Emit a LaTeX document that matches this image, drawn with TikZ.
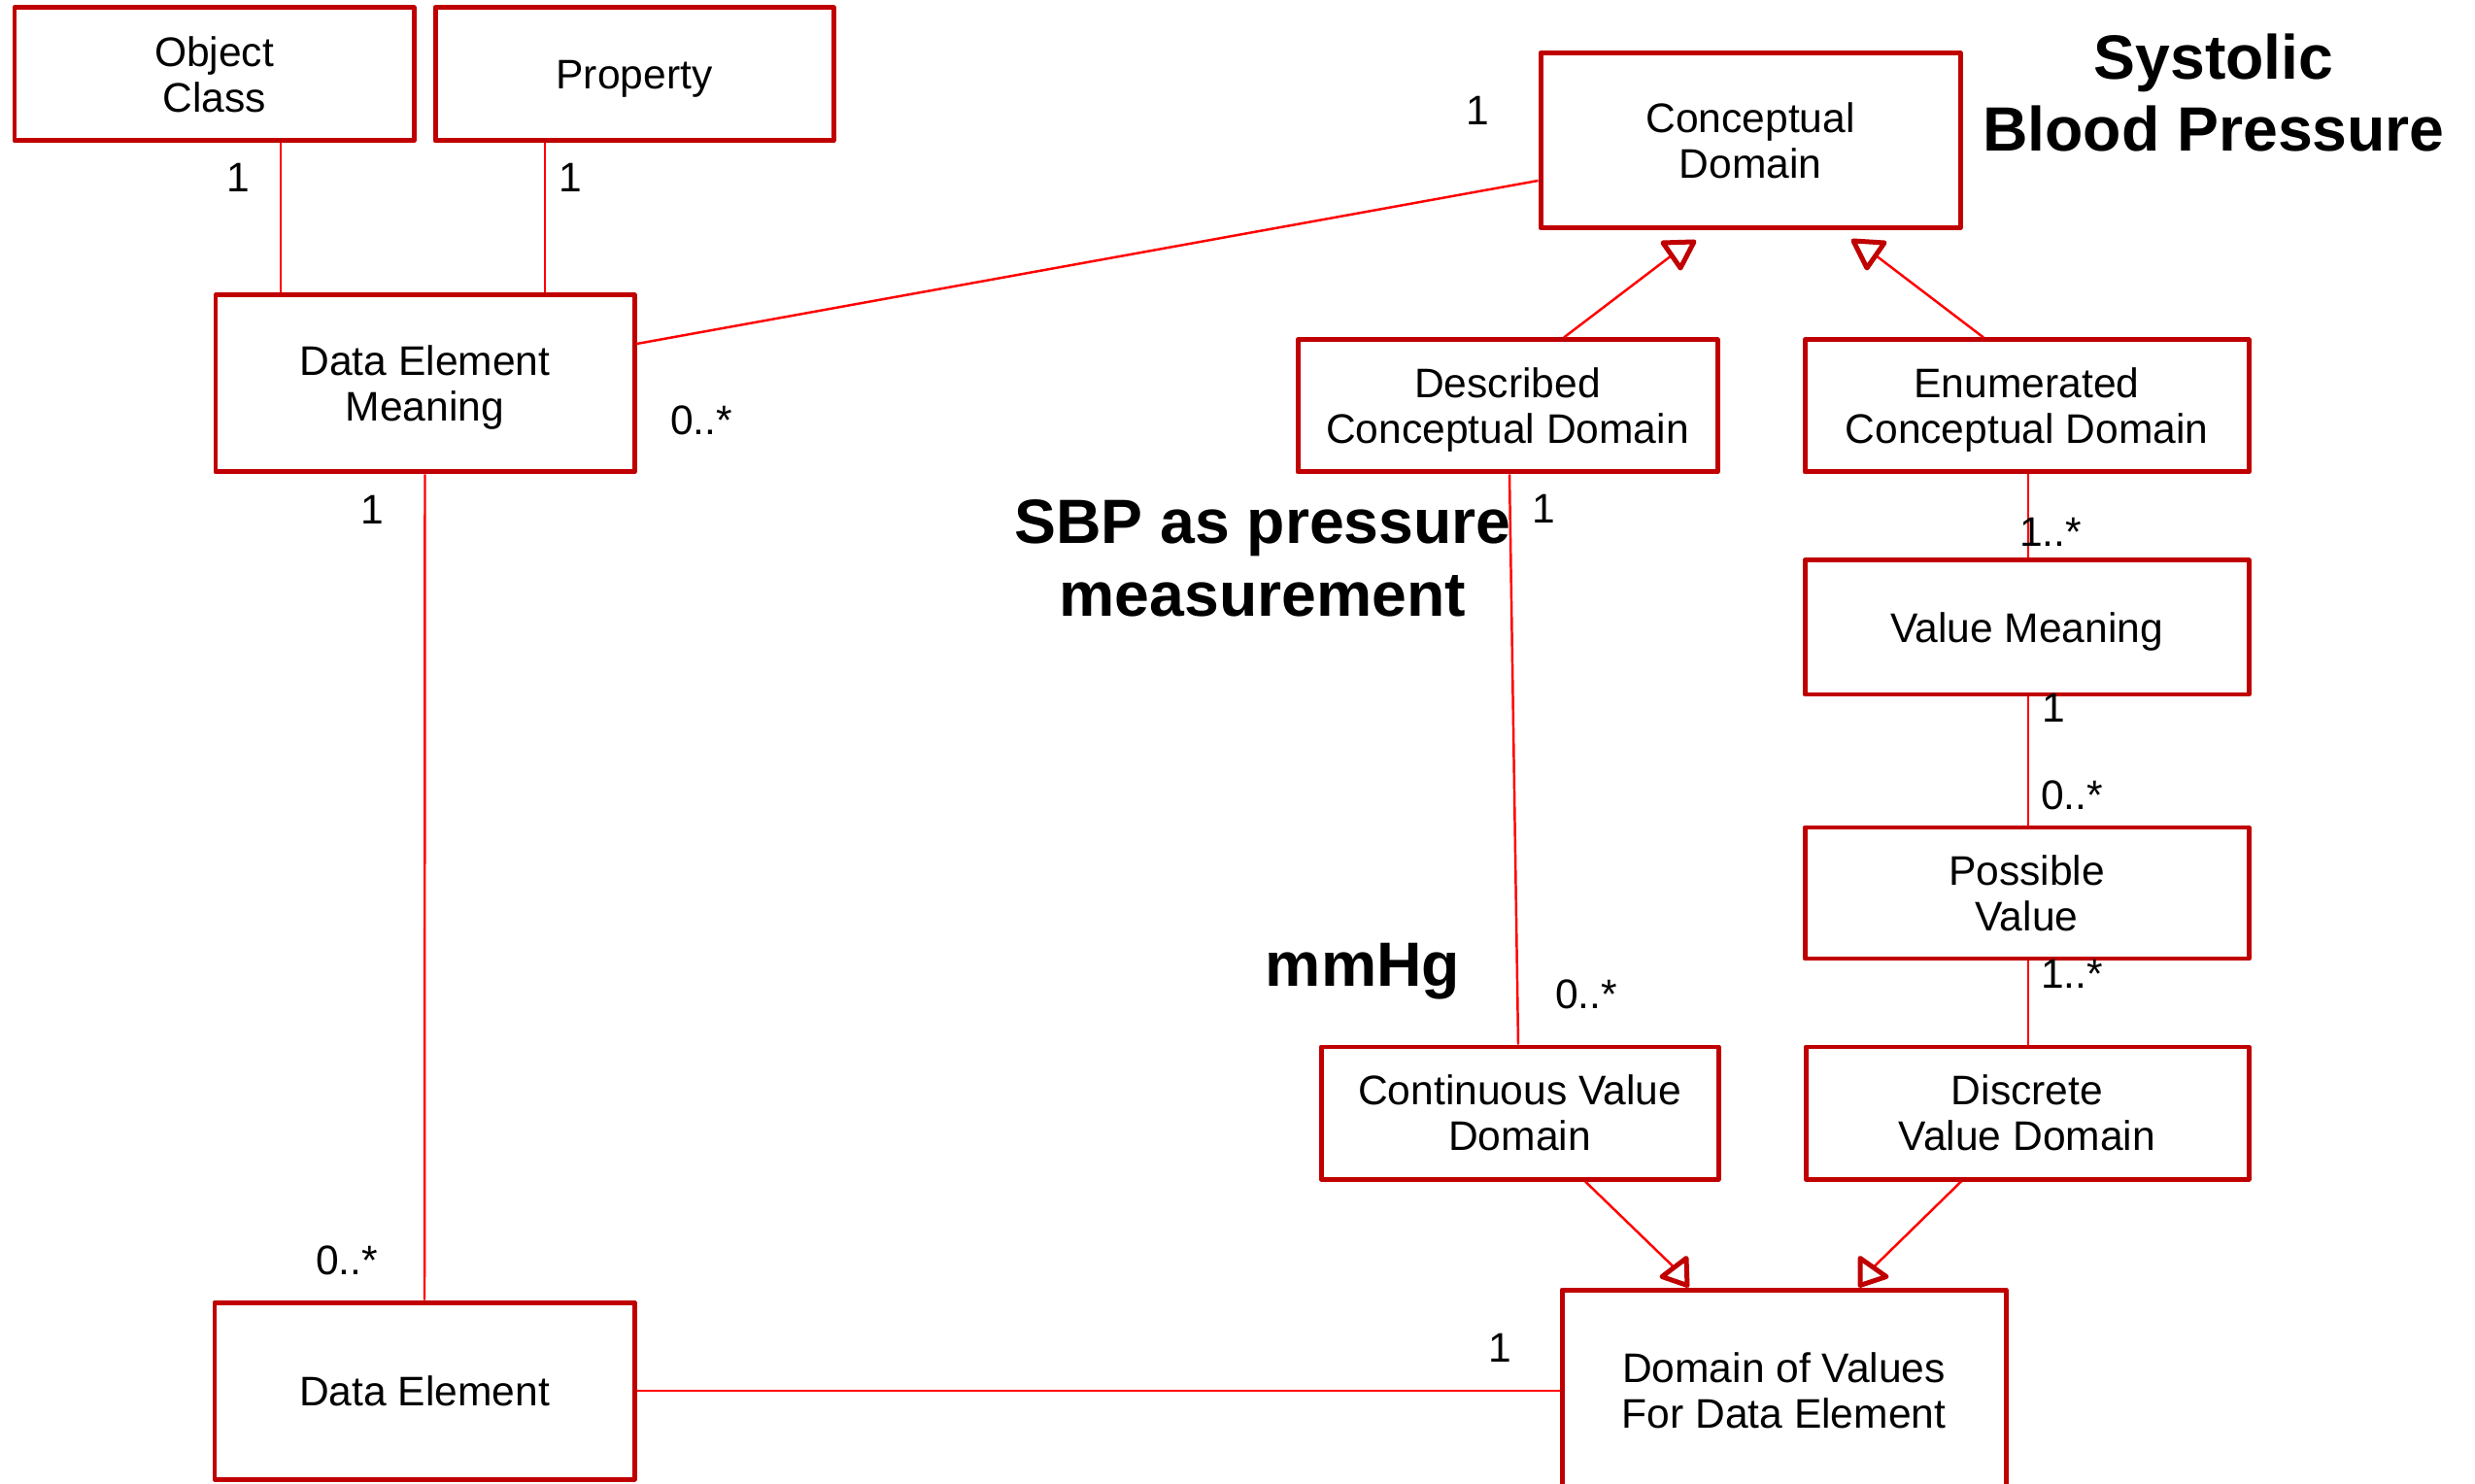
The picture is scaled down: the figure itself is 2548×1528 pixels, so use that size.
\documentclass[tikz,border=0pt]{standalone}
\usepackage{fontspec}
\setmainfont{Liberation Sans}
\usetikzlibrary{calc}
\definecolor{boxred}{RGB}{192,0,0}
\definecolor{linkred}{RGB}{255,0,0}

\begin{document}
\begin{tikzpicture}[x=0.01cm,y=-0.01cm,
  box/.style={draw=boxred, line width=1.42pt, line join=round, fill=white,
    rectangle, inner sep=0pt, align=center,
    font=\fontsize{12.1pt}{13.4pt}\selectfont},
  sz/.style 2 args={minimum width=#1*0.01cm, minimum height=#2*0.01cm},
  link/.style={draw=linkred, line width=0.7pt},
  mult/.style={inner sep=0pt, text height=8.66pt, text depth=0pt,
    font=\fontsize{12.1pt}{13.4pt}\selectfont},
  note/.style={inner sep=0pt, align=center,
    font=\fontsize{18.3pt}{21.3pt}\bfseries\selectfont},
  gen/.style={draw=boxred, line width=1.42pt, line join=round, fill=white}
]
\useasboundingbox (0,0) rectangle (2548,1528);
\fill[white] (0,0) rectangle (2548,1528);
\clip (0,0) rectangle (2548,1528);

% classes
\node[box, sz={411}{137}] (oc)   at (220.5,76.5)  {Object\\Class};
\node[box, sz={410}{137}, text height=8.66pt, text depth=0pt] (prop) at (653,76.5) {Property};
\node[box, sz={431}{182}] (dem)  at (437.5,395)   {Data Element\\Meanin\smash{g}};
\node[box, sz={432}{180}] (cd)   at (1802,144.5)  {Conceptual\\Domain};
\node[box, sz={432}{136}] (dcd)  at (1552,418)    {Described\\Conce\smash{p}tual Domain};
\node[box, sz={457}{136}] (ecd)  at (2086.5,418)  {Enumerated\\Conce\smash{p}tual Domain};
\node[box, sz={457}{138}, text height=8.66pt, text depth=0pt] (vm) at (2086.5,646) {Value Meaning};
\node[box, sz={457}{135}] (pv)   at (2086.5,919.5){Possible\\Value};
\node[box, sz={409}{136}] (cvd)  at (1564.5,1146) {Continuous Value\\Domain};
\node[box, sz={456}{136}] (dvd)  at (2087,1146)   {Discrete\\Value Domain};
\node[box, sz={432}{182}, text height=8.66pt, text depth=0pt] (de) at (437,1432) {Data Element};
\node[box, sz={457}{207}] (dov)  at (1836.5,1431.5) {Domain of Values\\For Data Element};

% helper positions for connector ends
\coordinate (xoc) at (289,0);
\coordinate (xpr) at (561,0);
\coordinate (ydem) at (0,354);
\coordinate (ycd) at (0,186);
\coordinate (xdcd) at (1610,0);
\coordinate (xecd) at (2042,0);
\coordinate (xd1) at (1554,0);
\coordinate (xd2) at (1563,0);
\coordinate (xev) at (2088,0);
\coordinate (xcv) at (1632,0);
\coordinate (xdv) at (2019,0);

% associations
\draw[link] (oc.south -| xoc) -- (dem.north -| xoc);
\draw[link] (prop.south -| xpr) -- (dem.north -| xpr);
\draw[link] (dem.east |- ydem) -- (cd.west |- ycd);
\draw[link] (dem.south) -- (de.north);
\draw[link] (de.east) -- (de.east -| dov.west);
\draw[link] (dcd.south -| xd1) -- (cvd.north -| xd2);
\draw[link] (ecd.south -| xev) -- (vm.north -| xev);
\draw[link] (vm.south -| xev) -- (pv.north -| xev);
\draw[link] (pv.south -| xev) -- (dvd.north -| xev);

% generalisations with hollow triangles
\draw[link] (dcd.north -| xdcd) -- ($(cd.south)+(-81,26)$);
\draw[gen] ($(cd.south)+(-90,13)$) -- ($(cd.south)+(-58,12)$) -- ($(cd.south)+(-72,39)$) -- cycle;
\draw[link] (ecd.north -| xecd) -- ($(cd.south)+(129,26)$);
\draw[gen] ($(cd.south)+(106,11)$) -- ($(cd.south)+(138,13)$) -- ($(cd.south)+(120,39)$) -- cycle;

\draw[link] (cvd.south -| xcv) -- ($(dov.north)+(-113,-20.5)$);
\draw[gen] ($(dov.north)+(-100.5,-30)$) -- ($(dov.north)+(-99.5,-2)$) -- ($(dov.north)+(-125.5,-11)$) -- cycle;
\draw[link] (dvd.south -| xdv) -- ($(dov.north)+(92,-20.5)$);
\draw[gen] ($(dov.north)+(78.5,-30)$) -- ($(dov.north)+(78.5,-2)$) -- ($(dov.north)+(105.5,-11)$) -- cycle;

% multiplicities
\node[mult] (m1)  at (245,182)   {1};
\node[mult] (m2)  at (587,182)   {1};
\node[mult] (m3)  at (1521,113)  {1};
\node[mult] (m4)  at (722,432)   {0..*};
\node[mult] (m5)  at (383,524)   {1};
\node[mult] (m6)  at (357,1297)  {0..*};
\node[mult] (m7)  at (1544,1387) {1};
\node[mult] (m8)  at (1589,523)  {1};
\node[mult] (m9)  at (1633,1023) {0..*};
\node[mult] (m10) at (2111,547)  {1..*};
\node[mult] (m11) at (2114,728)  {1};
\node[mult] (m12) at (2133,818)  {0..*};
\node[mult] (m13) at (2133,1002) {1..*};

% annotations
\node[note] (sbp)   at (2279,95.5)  {Systolic\\Blood Pressure};
\node[note] (meas)  at (1300,574.5) {SBP as pressure\\measurement};
\node[note, anchor=base] (unit) at (1403,1015) {mmHg};
\end{tikzpicture}
\end{document}
